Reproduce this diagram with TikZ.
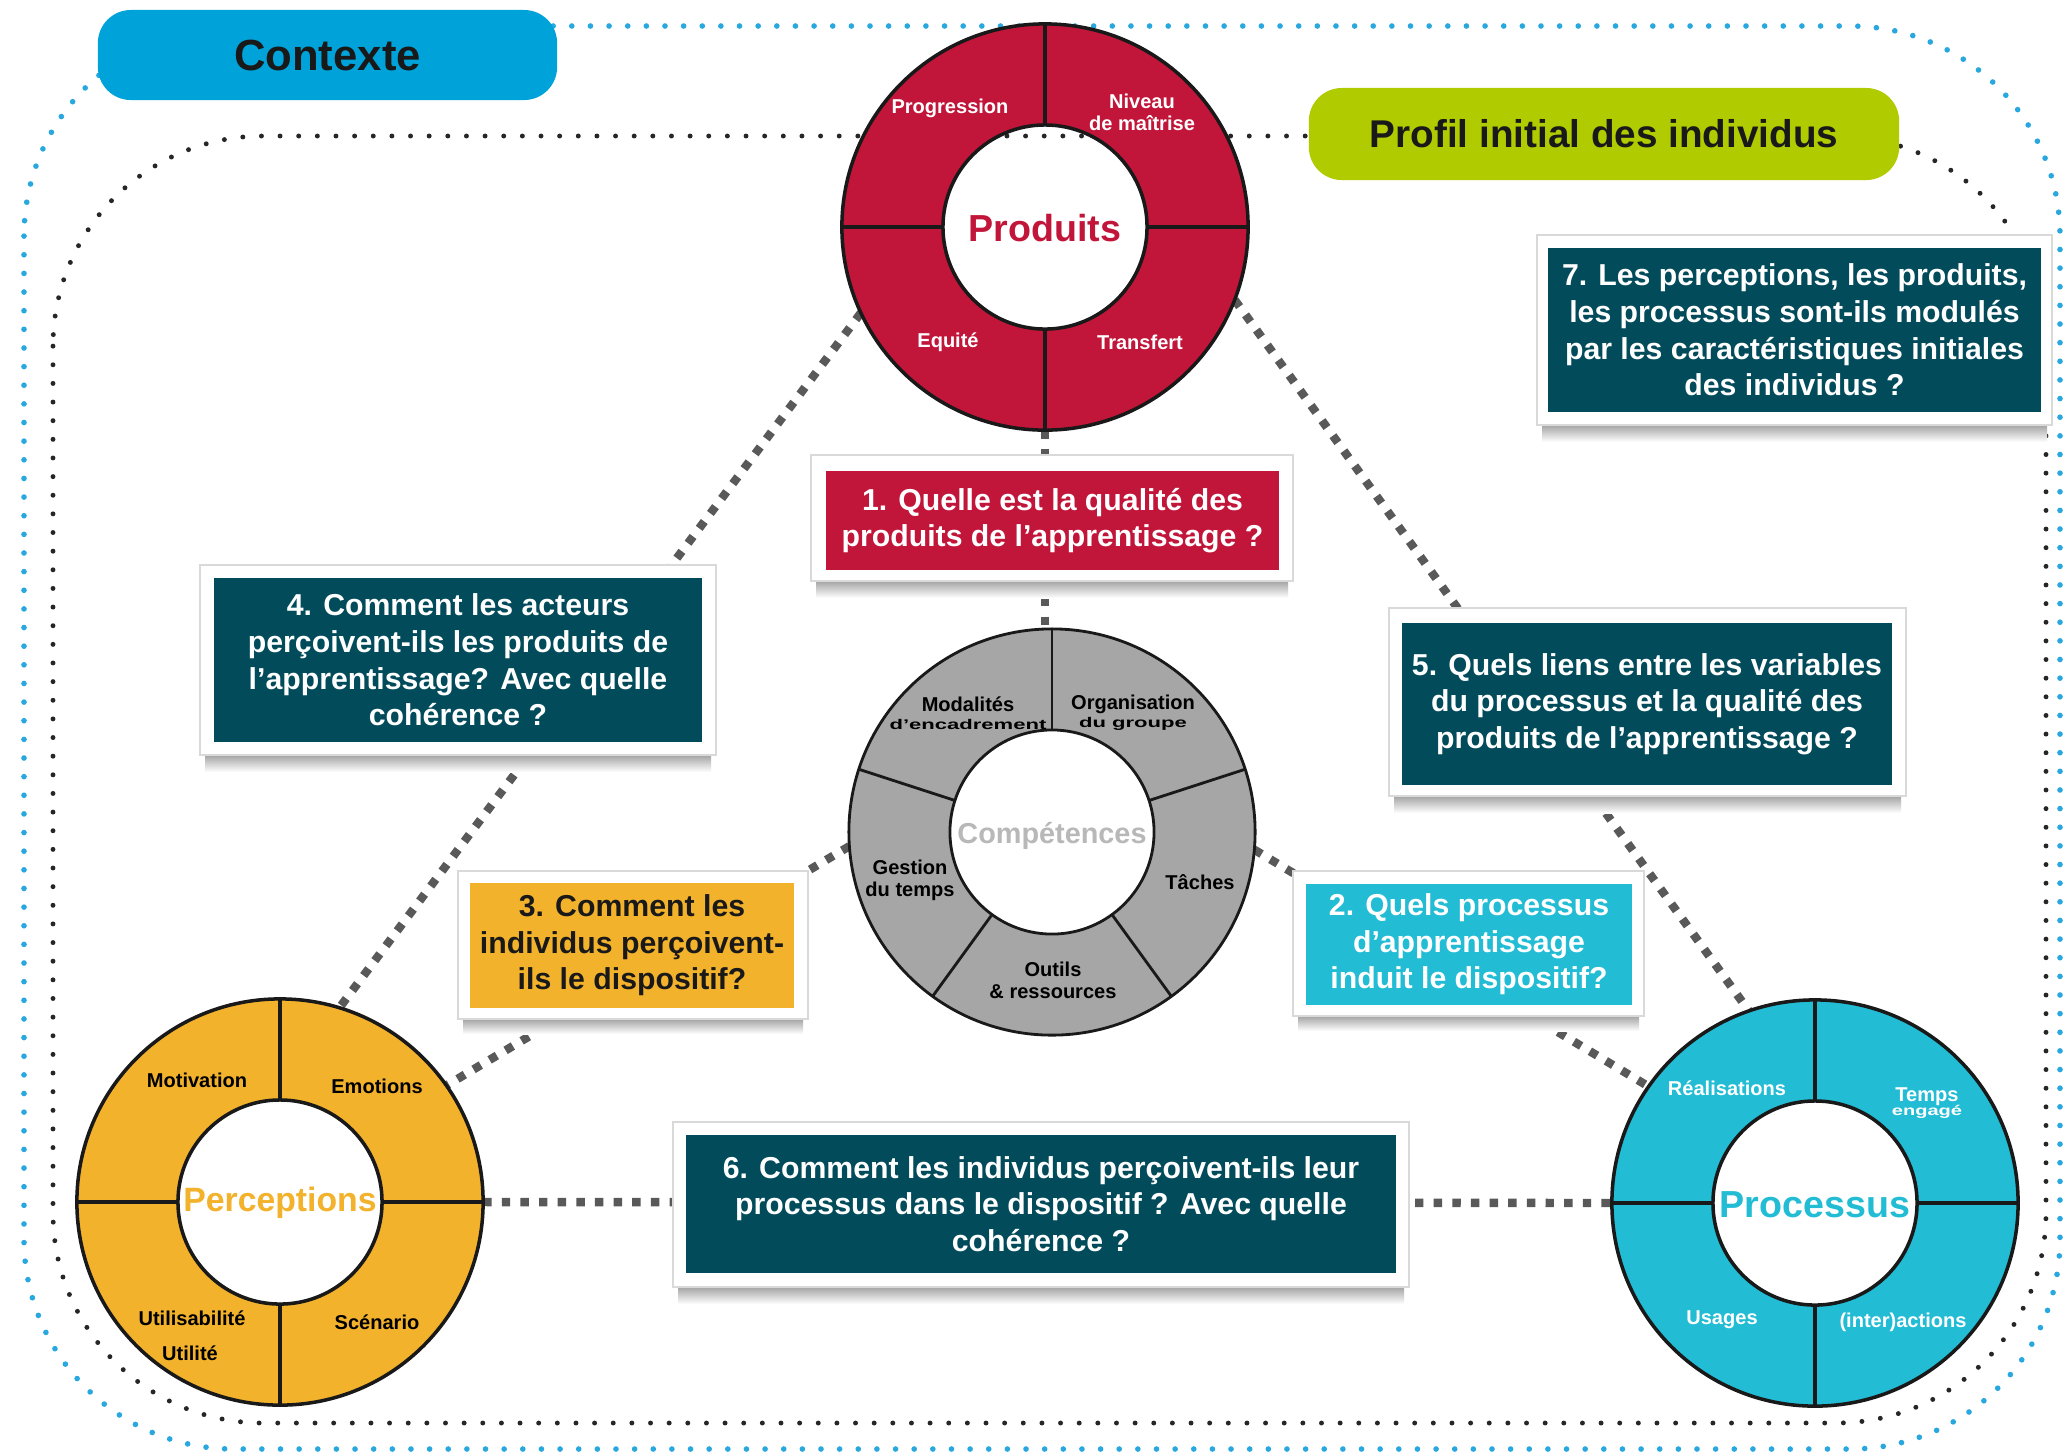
\documentclass[tikz,border=0pt]{standalone}
\usepackage{fontspec}
\setmainfont{Liberation Sans}
\usepackage{graphicx}
\usetikzlibrary{calc}
\definecolor{ctxblue}{HTML}{00A3D9}
\definecolor{profgreen}{HTML}{B0CB00}
\definecolor{prodred}{HTML}{C1163A}
\definecolor{compgray}{HTML}{A6A6A6}
\definecolor{percor}{HTML}{F3B22C}
\definecolor{proccyan}{HTML}{22BCD4}
\definecolor{qteal}{HTML}{024B5B}
\definecolor{dotblue}{HTML}{29A8E0}
\definecolor{congray}{HTML}{595959}
\definecolor{complabel}{HTML}{B8B8B8}
\begin{document}
\begin{tikzpicture}[x=0.01cm,y=-0.01cm,
  ring/.style={circle, minimum size=4.06cm, inner sep=0pt, outer sep=0pt},
  hole/.style={circle, minimum size=2.04cm, inner sep=0pt, outer sep=0pt},
  conn/.style={draw=congray, line width=2.4pt, dash pattern=on 2.4pt off 2.9pt},
  bluedots/.style={draw=dotblue, line width=1.6pt, line cap=round, dash pattern=on 0pt off 5.3pt},
  blackdots/.style={draw=black!85, line width=1.4pt, line cap=round, dash pattern=on 0pt off 5.3pt},
  outline/.style={draw=black!90, line width=1pt},
  seglabel/.style={font=\bfseries\fontsize{5.7}{6.2}\selectfont, align=center, inner sep=0pt},
  ringtitle/.style={font=\bfseries\fontsize{10.7}{12}\selectfont, inner sep=0pt},
  qtext/.style={font=\bfseries\fontsize{8.6}{10.4}\selectfont, align=center, inner sep=0pt},
  qframe/.style={fill=white, draw=black!15, line width=0.5pt, inner sep=0pt},
  qshadow/.style={top color=black!38, bottom color=white},
  header/.style={rounded corners=0.33cm, inner sep=0pt, font=\bfseries\fontsize{12.4}{14}\selectfont, text=black!90},
]
\useasboundingbox (0,0) rectangle (2069,1453);
\fill[white] (0,0) rectangle (2069,1453);

% dotted frames
\draw[bluedots, rounded corners=2.1cm] (24,26) rectangle (2060,1449);
\draw[blackdots, rounded corners=2.1cm] (53,136) rectangle (2046,1423);

% ring reference nodes
\node[ring] (prod) at (1045,227) {};
\node[hole] (prodi) at (1045,227) {};
\node[ring] (comp) at (1052,832) {};
\node[hole] (compi) at (1052,832) {};
\node[ring] (perc) at (280,1202) {};
\node[hole] (perci) at (280,1202) {};
\node[ring] (proc) at (1815,1203) {};
\node[hole] (proci) at (1815,1203) {};

% connectors
\draw[conn] (prod.205) -- (perc.73);
\draw[conn] (prod.339) -- (proc.109);
\draw[conn] (prod.south) -- (prod.south |- comp.north);
\draw[conn] (comp.184) -- (perc.35);
\draw[conn] (comp.355) -- (proc.145);
\draw[conn] (perc.east) -- (proc.west);

% Produits ring
\fill[prodred, even odd rule] (prod.center) circle (2.03cm) circle (1.02cm);
\draw[outline] (prod.center) circle (2.03cm) circle (1.02cm);
\foreach \a in {0,90,180,270} \draw[outline] (prodi.\a) -- (prod.\a);
\node[ringtitle, text=prodred] (prodt) at (1045,228) {Produits};
\node[seglabel, text=white] (prog) at (950,108) {Progression};
\node[seglabel, text=white] (nivm) at (1142,112) {Niveau\\de maîtrise};
\node[seglabel, text=white] (equi) at (948,342) {Equité};
\node[seglabel, text=white] (trans) at (1140,342) {Transfert};

% Competences ring
\fill[compgray, even odd rule] (comp.center) circle (2.03cm) circle (1.02cm);
\draw[outline, line width=0.8pt] (comp.center) circle (2.03cm) circle (1.02cm);
\foreach \a in {18,90,162,234,306} \draw[outline, line width=0.8pt] (compi.\a) -- (comp.\a);
\node[ringtitle, font=\bfseries\fontsize{8.2}{10}\selectfont, text=complabel] (compt) at (1052,836) {Compétences};
\node[seglabel] (moda) at (968,713) {Modalités\\[-1pt]\scalebox{1.1}[0.7]{d’encadrement}};
\node[seglabel] (orga) at (1133,713) {Organisation\\[-1pt]\scalebox{1.1}[0.7]{du groupe}};
\node[seglabel] (gest) at (910,880) {Gestion\\du temps};
\node[seglabel] (tach) at (1200,882) {Tâches};
\node[seglabel] (outi) at (1053,980) {Outils\\\& ressources};

% Perceptions ring
\fill[percor, even odd rule] (perc.center) circle (2.03cm) circle (1.02cm);
\draw[outline] (perc.center) circle (2.03cm) circle (1.02cm);
\foreach \a in {0,90,180,270} \draw[outline] (perci.\a) -- (perc.\a);
\node[ringtitle, font=\bfseries\fontsize{9.6}{11}\selectfont, text=percor] (perct) at (280,1203) {Perceptions};
\node[seglabel] (moti) at (197,1080) {Motivation};
\node[seglabel] (emot) at (377,1086) {Emotions};
\node[seglabel] (utis) at (192,1318) {Utilisabilité};
\node[seglabel] (util) at (190,1353) {Utilité};
\node[seglabel] (scen) at (377,1322) {Scénario};

% Processus ring
\fill[proccyan, even odd rule] (proc.center) circle (2.03cm) circle (1.02cm);
\draw[outline] (proc.center) circle (2.03cm) circle (1.02cm);
\foreach \a in {0,90,180,270} \draw[outline] (proci.\a) -- (proc.\a);
\node[ringtitle, text=proccyan] (proct) at (1815,1205) {Processus};
\node[seglabel, text=white] (real) at (1727,1088) {Réalisations};
\node[seglabel, text=white] (temp) at (1927,1103) {Temps\\[-2pt]\scalebox{1}[0.7]{engagé}};
\node[seglabel, text=white] (usag) at (1722,1320) {Usages};
\node[seglabel, text=white] (inte) at (1903,1322) {(inter)actions};

% question boxes
% q1
\shade[qshadow] (816,580) rectangle (1288,598);
\node[qframe, minimum width=4.82cm, minimum height=1.26cm] (q1f) at (1052,518) {};
\node[qtext, fill=prodred, text=white, minimum width=4.53cm, minimum height=0.99cm] (q1) at (1052.5,520.5) {1. Quelle est la qualité des\\produits de l’apprentissage ?};
% q4
\shade[qshadow] (205,754) rectangle (711,772);
\node[qframe, minimum width=5.16cm, minimum height=1.90cm] (q4f) at (458,660) {};
\node[qtext, fill=qteal, text=white, minimum width=4.88cm, minimum height=1.64cm] (q4) at (458,660) {4. Comment les acteurs\\perçoivent-ils les produits de\\l{\char"0027}apprentissage? Avec quelle\\cohérence ?};
% q5
\shade[qshadow] (1394,795) rectangle (1901,813);
\node[qframe, minimum width=5.17cm, minimum height=1.88cm] (q5f) at (1647.5,702) {};
\node[qtext, fill=qteal, text=white, minimum width=4.90cm, minimum height=1.62cm] (q5) at (1647,704) {5. Quels liens entre les variables\\du processus et la qualité des\\produits de l’apprentissage ?};
% q7
\shade[qshadow] (1542,424) rectangle (2047,442);
\node[qframe, minimum width=5.15cm, minimum height=1.90cm] (q7f) at (1794.5,330) {};
\node[qtext, fill=qteal, text=white, minimum width=4.93cm, minimum height=1.64cm] (q7) at (1794.5,330) {7. Les perceptions, les produits,\\les processus sont-ils modulés\\par les caractéristiques initiales\\des individus ?};
% q3
\shade[qshadow] (463,1018) rectangle (803,1034);
\node[qframe, minimum width=3.50cm, minimum height=1.48cm] (q3f) at (633,945) {};
\node[qtext, fill=percor, text=black!90, minimum width=3.24cm, minimum height=1.25cm] (q3) at (632,945.5) {3. Comment les\\individus perçoivent-\\ils le dispositif?};
% q2
\shade[qshadow] (1298,1015) rectangle (1639,1031);
\node[qframe, minimum width=3.51cm, minimum height=1.45cm] (q2f) at (1468.5,943.5) {};
\node[qtext, fill=proccyan, text=white, minimum width=3.26cm, minimum height=1.21cm] (q2) at (1469,944.5) {2. Quels processus\\d’apprentissage\\induit le dispositif?};
% q6
\shade[qshadow] (678,1286) rectangle (1404,1304);
\node[qframe, minimum width=7.36cm, minimum height=1.65cm] (q6f) at (1041,1204.5) {};
\node[qtext, fill=qteal, text=white, minimum width=7.10cm, minimum height=1.38cm] (q6) at (1041,1204) {6. Comment les individus perçoivent-ils leur\\processus dans le dispositif ? Avec quelle\\cohérence ?};

% headers
\node[header, fill=ctxblue, minimum width=4.59cm, minimum height=0.90cm] (ctx) at (327.5,55) {Contexte};
\node[header, fill=profgreen, font=\bfseries\fontsize{11}{13}\selectfont, minimum width=5.90cm, minimum height=0.92cm] (prof) at (1604,134) {Profil initial des individus};
\end{tikzpicture}
\end{document}
